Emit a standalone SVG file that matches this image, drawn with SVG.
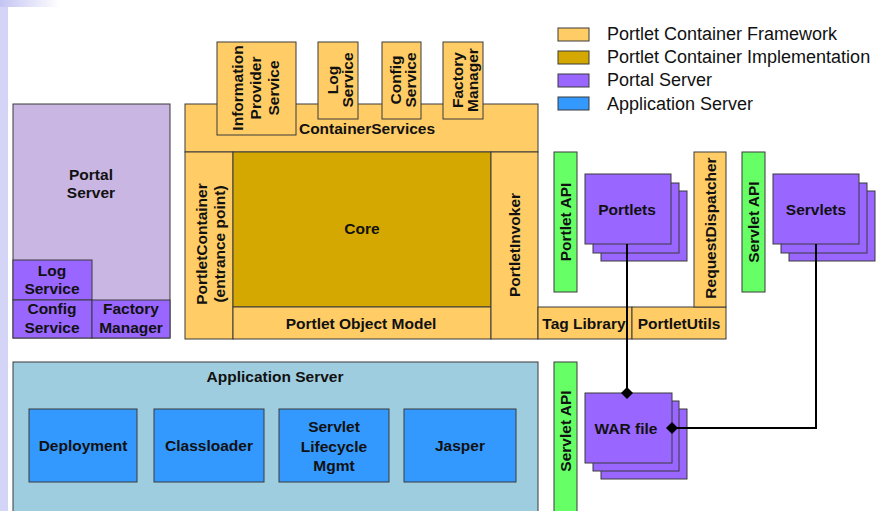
<svg xmlns="http://www.w3.org/2000/svg" width="877" height="511" viewBox="0 0 877 511">
<defs>
<linearGradient id="topfade" x1="0" y1="0" x2="1" y2="0"><stop offset="0" stop-color="#c4c4f4"/><stop offset="1" stop-color="#ffffff"/></linearGradient>
<marker id="dia" viewBox="0 0 12 12" refX="6" refY="6" markerWidth="12" markerHeight="12" markerUnits="userSpaceOnUse" orient="auto"><path d="M0,6 L6,0 L12,6 L6,12 Z" fill="#000"/></marker>
</defs>
<style>
.b{stroke:#3a3a3a;stroke-width:1}
.fw{fill:#ffcc66}
.im{fill:#d4a800}
.ps{fill:#9966ff}
.as{fill:#3399ff}
.gr{fill:#66ff66}
.t{font-family:"Liberation Sans",Arial,sans-serif;font-weight:bold;font-size:15.5px;fill:#111;text-anchor:middle}
.lg{font-family:"Liberation Sans",Arial,sans-serif;font-size:18px;fill:#111}
.c{stroke:#000;stroke-width:2;fill:none}
</style>
<rect width="877" height="511" fill="#fff"/>
<g id="decor">
<rect x="0" y="0" width="60" height="7" fill="url(#topfade)"/>
<rect x="0" y="7" width="8" height="504" fill="#d4d4f6"/>
</g>
<g id="legend">
<rect class="b fw" x="558" y="28" width="31" height="13"/>
<text class="lg" x="607" y="40">Portlet Container Framework</text>
<rect class="b im" x="558" y="51" width="31" height="13"/>
<text class="lg" x="607" y="63">Portlet Container Implementation</text>
<rect class="b ps" x="558" y="74" width="31" height="13"/>
<text class="lg" x="607" y="86">Portal Server</text>
<rect class="b as" x="558" y="97" width="31" height="13"/>
<text class="lg" x="607" y="110">Application Server</text>
</g>
<g id="portal-server">
<rect class="b" x="13" y="104" width="157" height="234" fill="#c9b6e2"/>
<text class="t" x="91" y="180">Portal</text>
<text class="t" x="91" y="198">Server</text>
</g>
<g id="ps-log-service">
<rect class="b ps" x="13" y="260" width="79" height="40"/>
<text class="t" x="52" y="276">Log</text>
<text class="t" x="52" y="294">Service</text>
</g>
<g id="ps-config-service">
<rect class="b ps" x="13" y="300" width="79" height="38"/>
<text class="t" x="52" y="314">Config</text>
<text class="t" x="52" y="333">Service</text>
</g>
<g id="ps-factory-manager">
<rect class="b ps" x="92" y="300" width="78" height="38"/>
<text class="t" x="131" y="314">Factory</text>
<text class="t" x="131" y="333">Manager</text>
</g>
<g id="container-services">
<rect class="b fw" x="185" y="104" width="353" height="48"/>
<text class="t" x="367" y="134">ContainerServices</text>
</g>
<g id="info-provider-service">
<rect class="b fw" x="217" y="42" width="79" height="93"/>
<text class="t" transform="translate(256,88) rotate(-90)"><tspan x="0" y="-13">Information</tspan><tspan x="0" y="5">Provider</tspan><tspan x="0" y="23">Service</tspan></text>
</g>
<g id="cs-log-service">
<rect class="b fw" x="318" y="42" width="40" height="77"/>
<text class="t" transform="translate(338,80) rotate(-90)"><tspan x="0" y="0">Log</tspan><tspan x="0" y="15">Service</tspan></text>
</g>
<g id="cs-config-service">
<rect class="b fw" x="382" y="42" width="39" height="77"/>
<text class="t" transform="translate(401,80) rotate(-90)"><tspan x="0" y="0">Config</tspan><tspan x="0" y="15">Service</tspan></text>
</g>
<g id="cs-factory-manager">
<rect class="b fw" x="443" y="42" width="40" height="77"/>
<text class="t" transform="translate(463,80) rotate(-90)"><tspan x="0" y="0">Factory</tspan><tspan x="0" y="15">Manager</tspan></text>
</g>
<g id="portlet-container">
<rect class="b fw" x="185" y="152" width="48" height="187"/>
<text class="t" transform="translate(210,244) rotate(-90)"><tspan x="0" y="-3">PortletContainer</tspan><tspan x="0" y="15">(entrance point)</tspan></text>
</g>
<g id="core">
<rect class="b im" x="233" y="152" width="258" height="155"/>
<text class="t" x="362" y="234">Core</text>
</g>
<g id="portlet-object-model">
<rect class="b fw" x="233" y="307" width="258" height="32"/>
<text class="t" x="361" y="329">Portlet Object Model</text>
</g>
<g id="portlet-invoker">
<rect class="b fw" x="491" y="152" width="47" height="187"/>
<text class="t" transform="translate(520,245) rotate(-90)">PortletInvoker</text>
</g>
<g id="tag-library">
<rect class="b fw" x="538" y="307" width="94" height="32"/>
<text class="t" x="584" y="329">Tag Library</text>
</g>
<g id="portlet-utils">
<rect class="b fw" x="632" y="307" width="94" height="32"/>
<text class="t" x="679" y="329">PortletUtils</text>
</g>
<g id="request-dispatcher">
<rect class="b fw" x="694" y="152" width="32" height="155"/>
<text class="t" transform="translate(716,228) rotate(-90)">RequestDispatcher</text>
</g>
<g id="portlet-api">
<rect class="b gr" x="554" y="152" width="23" height="140"/>
<text class="t" transform="translate(571,222) rotate(-90)">Portlet API</text>
</g>
<g id="servlet-api-top">
<rect class="b gr" x="742" y="152" width="23" height="140"/>
<text class="t" transform="translate(759,222) rotate(-90)">Servlet API</text>
</g>
<g id="portlets">
<rect class="b ps" x="601" y="191" width="86" height="70"/>
<rect class="b ps" x="593" y="183" width="86" height="70"/>
<rect class="b ps" x="585" y="174" width="86" height="70"/>
<text class="t" x="627" y="215">Portlets</text>
</g>
<g id="servlets">
<rect class="b ps" x="789" y="191" width="86" height="70"/>
<rect class="b ps" x="781" y="183" width="86" height="70"/>
<rect class="b ps" x="773" y="174" width="86" height="70"/>
<text class="t" x="816" y="215">Servlets</text>
</g>
<g id="application-server">
<rect class="b" x="13" y="362" width="525" height="150" fill="#9fcde0"/>
<text class="t" x="275" y="382">Application Server</text>
</g>
<g id="deployment">
<rect class="b as" x="29" y="409" width="108" height="73"/>
<text class="t" x="83" y="451">Deployment</text>
</g>
<g id="classloader">
<rect class="b as" x="154" y="409" width="110" height="73"/>
<text class="t" x="209" y="451">Classloader</text>
</g>
<g id="servlet-lifecycle">
<rect class="b as" x="279" y="409" width="110" height="73"/>
<text class="t" x="334" y="432">Servlet</text>
<text class="t" x="334" y="452">Lifecycle</text>
<text class="t" x="334" y="471">Mgmt</text>
</g>
<g id="jasper">
<rect class="b as" x="404" y="409" width="112" height="73"/>
<text class="t" x="460" y="451">Jasper</text>
</g>
<g id="servlet-api-bottom">
<rect class="b gr" x="554" y="362" width="23" height="150"/>
<text class="t" transform="translate(571,431) rotate(-90)">Servlet API</text>
</g>
<g id="war-file">
<rect class="b ps" x="601" y="409" width="86" height="70"/>
<rect class="b ps" x="593" y="401" width="86" height="70"/>
<rect class="b ps" x="585" y="393" width="87" height="70"/>
<text class="t" x="626" y="434">WAR file</text>
</g>
<g id="connectors">
<path class="c" d="M627,244 L627,393" marker-end="url(#dia)"/>
<path class="c" d="M816,244 L816,428 L672,428" marker-end="url(#dia)"/>
</g>
</svg>
